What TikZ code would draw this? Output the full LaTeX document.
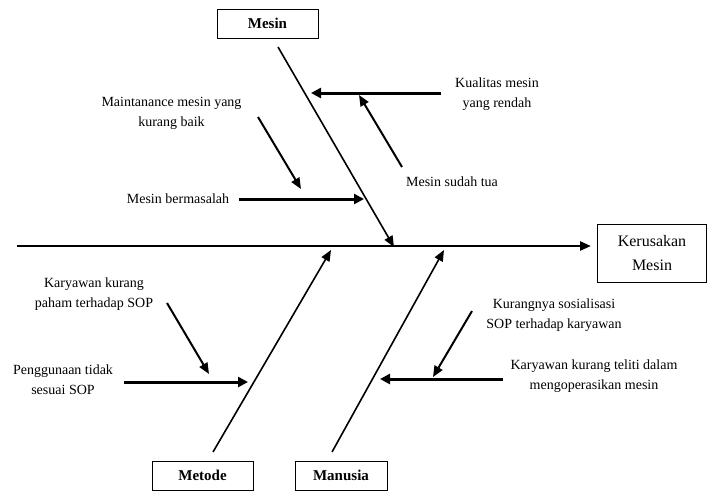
\documentclass[tikz,border=0pt]{standalone}
\usepackage{fontspec}
\setmainfont{Liberation Serif}
\usetikzlibrary{arrows.meta}
\begin{document}
\begin{tikzpicture}[x=1pt,y=-1pt,
  lbl/.style={align=center,font=\fontsize{14}{20}\selectfont,inner sep=0pt},
  catbox/.style={draw,line width=0.8pt,inner sep=0pt,font=\fontsize{15}{18}\selectfont\bfseries},
  spine/.style={line width=2.6pt,-{Triangle[length=11pt,width=9pt]}},
  bone/.style={line width=1.6pt,-{Triangle[length=11pt,width=9pt]}},
  hcause/.style={line width=3pt,-{Triangle[length=10pt,width=10pt]}},
  dcause/.style={line width=2pt,-{Triangle[length=11pt,width=9pt]}}]
\useasboundingbox (0,0) rectangle (708,491);
% effect
\node[draw,line width=0.8pt,minimum width=109pt,minimum height=58pt,inner sep=0pt,align=center,font=\fontsize{16}{24}\selectfont] (eff) at (652,253) {Kerusakan\\Mesin};
\coordinate (s0) at (17,246);
\coordinate (s1) at (591,246);
\draw[spine] (s0) -- (s1);
% category boxes
\node[catbox,minimum width=101pt,minimum height=29pt] (mesin) at (267.5,23.5) {Mesin};
\node[catbox,minimum width=101pt,minimum height=29pt] (metode) at (202.5,475.5) {Metode};
\node[catbox,minimum width=92pt,minimum height=29pt] (manusia) at (341,475.5) {Manusia};
% bones
\coordinate (b1s) at (278,47);  \coordinate (b1e) at (394,247);
\coordinate (b2s) at (213,452); \coordinate (b2e) at (331,250);
\coordinate (b3s) at (332,452); \coordinate (b3e) at (444,250);
\draw[bone] (b1s) -- (b1e);
\draw[bone] (b2s) -- (b2e);
\draw[bone] (b3s) -- (b3e);
% Mesin causes
\node[lbl] (kual) at (497,94) {Kualitas mesin\\yang rendah};
\coordinate (k0) at (441,93); \coordinate (k1) at (311,93);
\draw[hcause] (k0) -- (k1);
\node[lbl] (tua) at (452,182) {Mesin sudah tua};
\coordinate (t0) at (402,167); \coordinate (t1) at (359,95);
\draw[dcause] (t0) -- (t1);
\node[lbl] (maint) at (171.5,113) {Maintanance mesin yang\\kurang baik};
\coordinate (m0) at (258,117); \coordinate (m1) at (301,189);
\draw[dcause] (m0) -- (m1);
\node[lbl] (bermas) at (178,199) {Mesin bermasalah};
\coordinate (bm0) at (239,199); \coordinate (bm1) at (364,199);
\draw[hcause] (bm0) -- (bm1);
% Metode causes
\node[lbl] (paham) at (94,294) {Karyawan kurang\\paham terhadap SOP};
\coordinate (p0) at (167,303); \coordinate (p1) at (209,374);
\draw[dcause] (p0) -- (p1);
\node[lbl] (peng) at (63,380) {Penggunaan tidak\\sesuai SOP};
\coordinate (g0) at (124,382); \coordinate (g1) at (248,382);
\draw[hcause] (g0) -- (g1);
% Manusia causes
\node[lbl] (sos) at (554,315) {Kurangnya sosialisasi\\SOP terhadap karyawan};
\coordinate (so0) at (472,311); \coordinate (so1) at (433,377);
\draw[dcause] (so0) -- (so1);
\node[lbl] (teliti) at (594,376) {Karyawan kurang teliti dalam\\mengoperasikan mesin};
\coordinate (te0) at (503,379); \coordinate (te1) at (380,379);
\draw[hcause] (te0) -- (te1);
\end{tikzpicture}
\end{document}
